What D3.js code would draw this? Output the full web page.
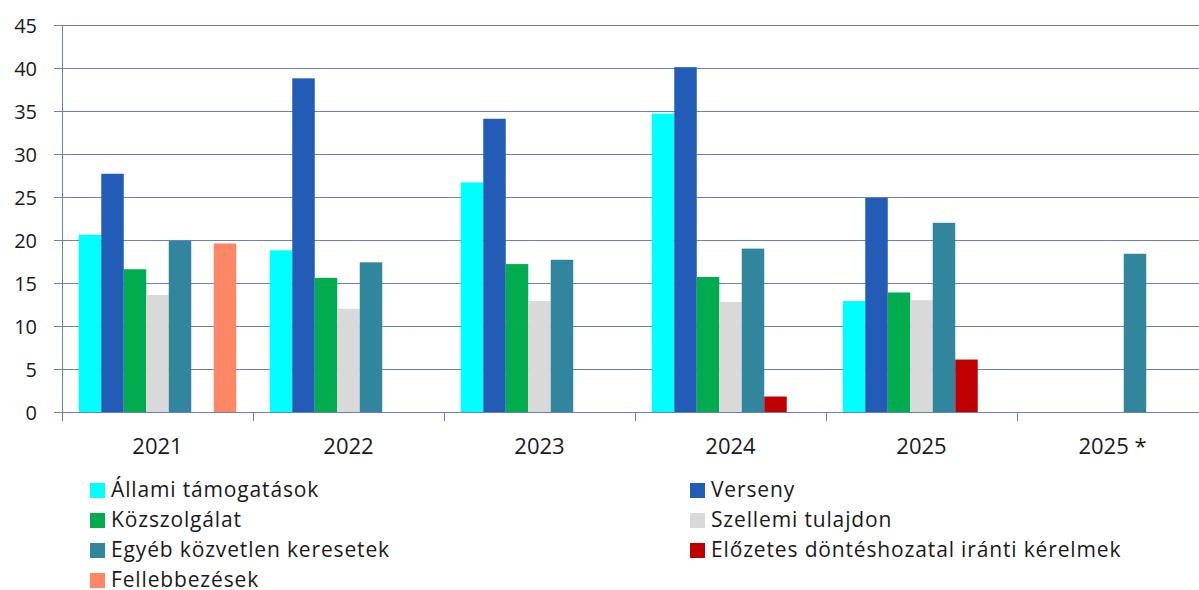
<!DOCTYPE html>
<html><head><meta charset="utf-8">
<script src="https://cdn.jsdelivr.net/npm/d3@7"></script>
<style>body{margin:0;background:#fff}svg{display:block;font-family:"Open Sans",sans-serif}</style>
</head><body><svg id="c" width="1199" height="590"></svg>
<script>
const categories = ["2021","2022","2023","2024","2025","2025 *"];
const seriesNames = ["Állami támogatások","Verseny","Közszolgálat","Szellemi tulajdon","Egyéb közvetlen keresetek","Előzetes döntéshozatal iránti kérelmek","Fellebbezések"];
const seriesColors = ["#00ffff","#225cb6","#00ac4e","#d9d9d9","#31859c","#c00000","#ff8766"];
const allamiTamogatasok = [20.6, 18.8, 26.7, 34.7, 12.9, 0];
const verseny = [27.7, 38.8, 34.1, 40.1, 24.9, 0];
const kozszolgalat = [16.6, 15.6, 17.2, 15.7, 13.9, 0];
const szellemiTulajdon = [13.6, 12.0, 12.9, 12.8, 13.0, 0];
const egyebKozvetlen = [19.9, 17.4, 17.7, 19.0, 22.0, 18.4];
const elozetesDontes = [0, 0, 0, 1.8, 6.1, 0];
const fellebbezesek = [19.6, 0, 0, 0, 0, 0];
const yTicks = [0,5,10,15,20,25,30,35,40,45];

const seriesValues = [allamiTamogatasok, verseny, kozszolgalat, szellemiTulajdon, egyebKozvetlen, elozetesDontes, fellebbezesek];

(function(){
const svg = d3.select("#c");
const left = 62, groupW = 191, plotTop = 25, plotBottom = 412;
const x = d3.scaleBand().domain(categories).range([left, left + groupW*categories.length]).paddingInner(0).paddingOuter(0);
const x1 = d3.scaleBand().domain(d3.range(seriesNames.length)).range([0, groupW]).paddingOuter(0.745).paddingInner(0);
const y = d3.scaleLinear().domain([0,45]).range([plotBottom, plotTop]);
const gridColor = "#6a80c6";
const textColor = "#1a1a1a";

svg.append("g").selectAll("line").data(yTicks).join("line")
  .attr("x1", 54).attr("x2", 1199)
  .attr("y1", d => Math.round(y(d)) + 0.5).attr("y2", d => Math.round(y(d)) + 0.5)
  .attr("stroke", gridColor).attr("stroke-width", 1);

svg.append("g").selectAll("text").data(yTicks).join("text")
  .attr("x", 37).attr("y", d => y(d)).attr("dy", "0.38em")
  .attr("text-anchor", "end").attr("font-size", 20).attr("fill", textColor)
  .text(d => d);

const groups = svg.append("g").selectAll("g").data(categories).join("g")
  .attr("transform", c => `translate(${x(c)},0)`);
groups.selectAll("rect").data((c, ci) => seriesValues.map((s, si) => ({si, v: s[ci]})).filter(d => d.v > 0))
  .join("rect")
  .attr("x", d => x1(d.si)).attr("width", x1.bandwidth())
  .attr("y", d => y(d.v)).attr("height", d => y(0) - y(d.v))
  .attr("fill", d => seriesColors[d.si]);

svg.append("line").attr("x1", left + 0.5).attr("x2", left + 0.5).attr("y1", plotTop).attr("y2", 421)
  .attr("stroke", gridColor);
svg.append("g").selectAll("line").data(categories.slice(1)).join("line")
  .attr("x1", c => Math.round(x(c)) + 0.5).attr("x2", c => Math.round(x(c)) + 0.5)
  .attr("y1", plotBottom).attr("y2", 421).attr("stroke", gridColor);
svg.append("line").attr("x1", 54).attr("x2", 1199).attr("y1", plotBottom + 0.5).attr("y2", plotBottom + 0.5).attr("stroke", gridColor);

svg.append("g").selectAll("text").data(categories).join("text")
  .attr("x", c => x(c) + groupW/2).attr("y", 454)
  .attr("text-anchor", "middle").attr("font-size", 22).attr("fill", textColor)
  .text(c => c);

const legendOrder = [0,1,2,3,4,5,6];
const leg = svg.append("g").selectAll("g").data(legendOrder).join("g")
  .attr("transform", (d, i) => `translate(${i % 2 === 0 ? 90 : 690},${483 + Math.floor(i/2)*30})`);
leg.append("rect").attr("width", 15).attr("height", 15).attr("fill", d => seriesColors[d]);
leg.append("text").attr("x", 21).attr("y", 14)
  .attr("font-size", 21).attr("letter-spacing", 0.85).attr("fill", textColor).text(d => seriesNames[d]);
})();
</script></body></html>
